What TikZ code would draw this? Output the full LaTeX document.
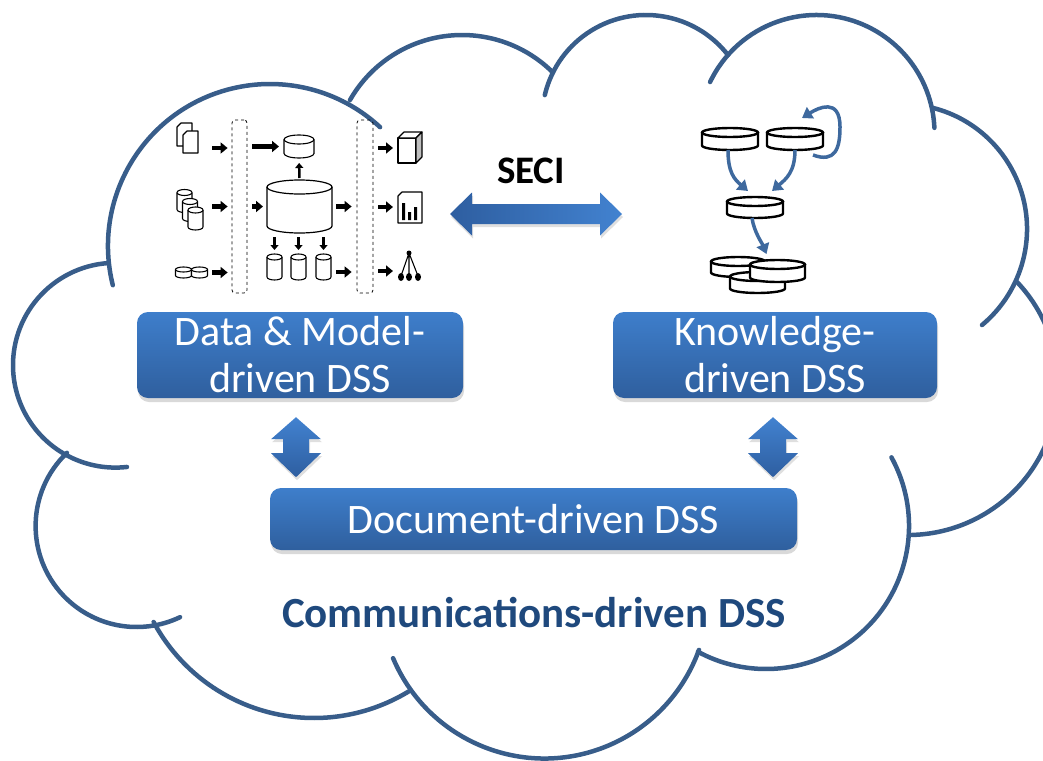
\documentclass[tikz,border=0pt]{standalone}
\usepackage{fontspec}
\setmainfont{Carlito}
\usepackage{tikz}
\usetikzlibrary{arrows.meta,shadows}

\definecolor{cloudblue}{RGB}{56,93,138}
\definecolor{boxtop}{RGB}{62,126,203}
\definecolor{boxbot}{RGB}{47,95,158}
\definecolor{arrdark}{RGB}{46,94,160}
\definecolor{arrlight}{RGB}{66,130,208}
\definecolor{flowblue}{RGB}{62,105,158}
\definecolor{titleblue}{RGB}{31,73,125}

\begin{document}
\begin{tikzpicture}
[
x=1pt,y=-1pt,
cloudline/.style={draw=cloudblue,line width=4.5pt,line cap=round},
dssbox/.style={rounded corners=11pt,top color=boxtop,bottom color=boxbot,text=white,
  align=center,inner sep=0pt,font=\fontsize{42}{47}\selectfont,
  drop shadow={opacity=.3,shadow xshift=1pt,shadow yshift=-4pt}},
blockarrow/.style={drop shadow={opacity=.25,shadow xshift=1pt,shadow yshift=-3pt}},
% can={width}{height}{cap radius}{line width}
pics/can/.style n args={4}{code={
  \draw[fill=white,line width=#4] (-#1/2,-#2/2+#3) -- (-#1/2,#2/2-#3)
    arc[start angle=180,end angle=0,x radius=#1/2,y radius=#3] -- (#1/2,-#2/2+#3);
  \draw[fill=white,line width=#4] (0,-#2/2+#3) ellipse[x radius=#1/2,y radius=#3];
  \coordinate (-n) at (0,-#2/2);
  \coordinate (-s) at (0,#2/2);
  \coordinate (-w) at (-#1/2,0);
  \coordinate (-e) at (#1/2,0);
}},
dashbar/.style={draw,dashed,rounded corners=3pt,line width=.8pt,minimum width=15pt,minimum height=173pt,inner sep=0pt},
icon/.style={draw,fill=white,line width=1.1pt,line join=round},
blk/.style={-{Triangle[length=7pt,width=11pt]},line width=4.5pt},
blkthin/.style={-{Triangle[length=5pt,width=8pt]},line width=2.5pt},
flow/.style={draw=flowblue,line width=3.5pt,-{Triangle[length=10pt,width=13pt]}},
]
\useasboundingbox (0,0) rectangle (1043,760);
\clip (0,0) rectangle (1043,760);

%The cloud: centre x, centre y, radius, start and end angle of each lobe
\foreach \cx/\cy/\r/\a/\b in {270/246/162/166/312.8, 462/164/129/209.7/314.4,
    646/119/104/193.3/322, 816.5/133/118/205.6/357.5, 902/229/125/-75.7/50.2,
    908/385/150/-43.9/88.5, 766/526/143/-28.7/118.4, 544.4/594.2/164.3/157.1/19.8,
    314/536/182/151.8/58.7, 136.6/526/101/226.4/64.5, 115.4/365.2/102.4/265.9/83.5}
  \draw[cloudline] (\cx,\cy) ++(\a:\r) arc[start angle=\a,end angle=\b,radius=\r];

%Place the nodes
\node[dssbox,minimum width=326pt,minimum height=86pt] (dm) at (300,355) {Data \& Model-\\driven DSS};
\node[dssbox,minimum width=324pt,minimum height=86pt] (kn) at (775,355) {Knowledge-\\driven DSS};
\node[dssbox,minimum width=527pt,minimum height=62pt] (doc) at (533.5,519) {Document-driven DSS};
\node[font=\bfseries\fontsize{39}{47}\selectfont] (seci) at (531,170.5) {SECI};
\node[font=\bfseries\fontsize{43}{50}\selectfont,text=titleblue] (comm) at (534,613) {Communications-driven DSS};

%Block arrows
\coordinate (swap) at (536,214);
\shade[left color=arrdark,right color=arrlight,blockarrow] ([xshift=-86pt]swap) -- ++(22,-21.5) -- ++(0,11.5) -- ++(128,0) -- ++(0,-11.5) -- ++(22,21.5) -- ++(-22,21.5) -- ++(0,-11.5) -- ++(-128,0) -- ++(0,11.5) -- cycle;
\coordinate (lv) at ([xshift=-4pt,yshift=-19pt]dm.south);
\coordinate (rv) at ([xshift=-2pt,yshift=-19pt]kn.south);
\foreach \c in {lv,rv}
  \shade[top color=arrlight,bottom color=arrdark,blockarrow] (\c) -- ++(25,22) -- ++(-12,0) -- ++(0,14) -- ++(12,0) -- ++(-25,24) -- ++(-25,-24) -- ++(12,0) -- ++(0,-14) -- ++(-12,0) -- cycle;

%Data and model side: sources, staging, warehouse, marts, outputs
\node[dashbar] (bar1) at (239.5,206.5) {};
\node[dashbar,minimum width=16pt] (bar2) at (365,206.5) {};
\draw[icon] (177,127) -- (181,123) -- (192,123) -- (192,146) -- (177,146) -- cycle;
\draw[icon] (183,135) -- (187,131) -- (198,131) -- (198,153) -- (183,153) -- cycle;
\coordinate (docs) at (198,148);
\pic (s2a) at (184.5,201) {can={15}{23}{3}{1.1pt}};
\pic (s2b) at (190,210) {can={15}{23}{3}{1.1pt}};
\pic (s2c) at (195.5,218.5) {can={15}{23}{3}{1.1pt}};
\pic (s3a) at (183.5,272.5) {can={16}{11}{2.5}{1.1pt}};
\pic (s3b) at (199.5,272.5) {can={16}{11}{2.5}{1.1pt}};
\pic (mart) at (299,146.5) {can={30}{23}{4.5}{1.1pt}};
\pic (wh) at (299.5,206.5) {can={65}{53}{7}{1.2pt}};
\pic (m1) at (274.5,267) {can={15}{26}{3}{1.1pt}};
\pic (m2) at (298.5,267) {can={15}{26}{3}{1.1pt}};
\pic (m3) at (323.5,267) {can={15}{26}{3}{1.1pt}};
%cube, report and tree
\draw[icon] (398,138) rectangle (416,163);
\draw[icon] (398,138) -- (404,132) -- (422,132) -- (416,138) -- cycle;
\draw[icon,fill=black!25] (416,138) -- (422,132) -- (422,157) -- (416,163) -- cycle;
\draw[icon] (398,196) -- (402,192) -- (422,192) -- (422,223) -- (398,223) -- cycle;
\fill (402,203) rectangle (405,220) (408,212) rectangle (411,220) (414,207) rectangle (417,220);
\draw[line width=1.1pt] (409,253) -- (401,276) (409,253) -- (409,276) (409,253) -- (418,276);
\fill (409,253) circle (2.5pt) (401,277) ellipse [x radius=3pt,y radius=4pt]
  (409,277) ellipse [x radius=3pt,y radius=4pt] (418,277) ellipse [x radius=3pt,y radius=4pt];
\coordinate (cube) at (398,148);
\coordinate (rep) at (398,207);
\coordinate (tree) at (398,271);

%Draw the connections
\draw[blk,shorten <=14pt,shorten >=4pt] (docs) -- (docs -| bar1.west);
\draw[blk,shorten <=9pt,shorten >=4pt] (s2c-e |- wh-w) -- (bar1.west |- wh-w);
\draw[blk,shorten <=4.5pt,shorten >=4pt] (s3b-e) -- (s3b-e -| bar1.west);
\draw[blk,shorten <=5pt,shorten >=5pt] (bar1.east |- mart-w) -- (mart-w);
\draw[blk,shorten <=5pt,shorten >=4pt] (bar1.east |- wh-w) -- (wh-w);
\draw[blk,shorten <=4pt,shorten >=5pt] (wh-e) -- (wh-e -| bar2.west);
\draw[blk,shorten <=5pt,shorten >=5pt] ([yshift=-5pt]m3-e) -- ([yshift=-5pt]m3-e -| bar2.west);
\foreach \o in {cube,rep,tree}
  \draw[blk,shorten <=5pt,shorten >=5pt] (bar2.east |- \o) -- (\o);
\draw[blkthin,shorten <=2pt,shorten >=5pt] (wh-n) -- (mart-s);
\foreach \m in {m1,m2,m3}
  \draw[blkthin,shorten <=4pt,shorten >=4pt] (wh-s -| \m-n) -- (\m-n);

%Knowledge side
\pic (k1) at (730,139) {can={56}{22}{4.5}{2.4pt}};
\pic (k2) at (795,139) {can={56}{22}{4.5}{2.4pt}};
\pic (k3) at (755,207.5) {can={56}{21}{4.5}{2.4pt}};
\pic (k4) at (738,267) {can={54}{20}{4.5}{2.4pt}};
\pic (k5) at (757.5,282.5) {can={55}{21}{4.5}{2.4pt}};
\pic (k6) at (777.5,271) {can={55}{22}{4.5}{2.4pt}};
\draw[flow] ([xshift=-2pt]k1-s) .. controls +(0,22) and +(-14,-12) .. ([xshift=-7pt,yshift=6pt]k3-n);
\draw[flow] (k2-s) .. controls +(0,22) and +(14,-12) .. ([xshift=17pt,yshift=6pt]k3-n);
\draw[flow] ([xshift=-3pt]k3-s) .. controls +(2,14) and +(-4,-10) .. ([xshift=-11pt,yshift=6pt]k6-n);
\draw[flow] ([xshift=-10pt,yshift=-16pt]k2-e) .. controls +(22,8) and +(0,22) .. ([xshift=17pt,yshift=12pt]k2-e)
  .. controls +(0,-30) and +(16,-10) .. ([xshift=-21pt,yshift=21pt]k2-e);
\end{tikzpicture}
\end{document}
